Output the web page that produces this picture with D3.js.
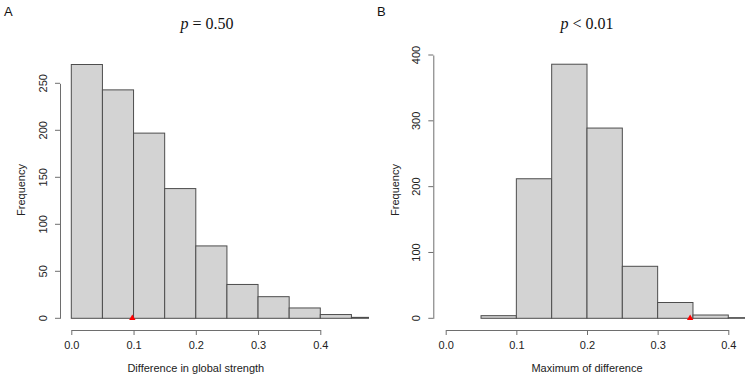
<!DOCTYPE html>
<html lang="en">
<head>
<meta charset="UTF-8">
<title>Histograms</title>
<script src="https://d3js.org/d3.v7.min.js"></script>
<style>
  body { margin: 0; background: #fff; }
  text { font-family: "Liberation Sans", Arial, sans-serif; }
</style>
</head>
<body>
<script>
    // panel A: difference in global strength
    var breaksA = [0, 0.05, 0.1, 0.15, 0.2, 0.25, 0.3, 0.35, 0.4, 0.45, 0.5];
    var countsA = [270, 243, 197, 138, 77, 36, 23, 11, 4, 1];
    var ticksXA = [0, 0.1, 0.2, 0.3, 0.4];
    var ticksYA = [0, 50, 100, 150, 200, 250];
    var observedA = 0.098;

    // panel B: maximum of difference
    var breaksB = [0.05, 0.1, 0.15, 0.2, 0.25, 0.3, 0.35, 0.4, 0.45];
    var countsB = [4, 212, 386, 289, 79, 24, 5, 1];
    var ticksXB = [0, 0.1, 0.2, 0.3, 0.4];
    var ticksYB = [0, 100, 200, 300, 400];
    var observedB = 0.346;

    var w = 746, h = 377;

    var svg = d3.select("body").append("svg")
        .attr("width", w)
        .attr("height", h);

    function panel(p) {
        var x = d3.scaleLinear().domain([0, 0.4]).range(p.xr);
        var y = d3.scaleLinear().domain([0, p.ymax]).range([318.3, p.ytop]);
        var g = svg.append("g");

        g.append("clipPath").attr("id", "clip" + p.id)
            .append("rect")
            .attr("x", p.clip[0]).attr("y", 0)
            .attr("width", p.clip[1] - p.clip[0]).attr("height", 330);

        var bins = p.counts.map(function(c, i) {
            return { x0: p.breaks[i], x1: p.breaks[i + 1], n: c };
        });

        g.append("g").attr("clip-path", "url(#clip" + p.id + ")")
            .selectAll("rect")
            .data(bins)
            .enter()
            .append("rect")
            .attr("x", function(d) { return x(d.x0); })
            .attr("y", function(d) { return y(d.n); })
            .attr("width", function(d) { return x(d.x1) - x(d.x0); })
            .attr("height", function(d) { return y(0) - y(d.n); })
            .attr("fill", "#d3d3d3")
            .attr("stroke", "#4d4d4d")
            .attr("stroke-width", 1);

        // observed value
        var tx = x(p.observed), ty = y(0);
        g.append("path")
            .attr("d", "M" + (tx - 3.2) + "," + (ty + 1.8) + "L" + (tx + 3.2) + "," + (ty + 1.8) + "L" + tx + "," + (ty - 3.8) + "Z")
            .attr("fill", "#ff0000");

        var xAxis = d3.axisBottom(x).tickValues(p.ticksX).tickFormat(d3.format(".1f"))
            .tickSize(5).tickSizeOuter(0).tickPadding(6);
        var gx = g.append("g").attr("transform", "translate(0,330)").call(xAxis);

        var yAxis = d3.axisLeft(y).tickValues(p.ticksY).tickSize(5).tickSizeOuter(0);
        var gy = g.append("g").attr("transform", "translate(" + p.yAxisX + ",0)").call(yAxis);

        [gx, gy].forEach(function(a) {
            a.select(".domain").attr("stroke", "#6e6e6e");
            a.selectAll(".tick line").attr("stroke", "#6e6e6e");
            a.selectAll(".tick text").attr("fill", "#222").style("font-size", "11px")
                .style("font-family", "'Liberation Sans', Arial, sans-serif");
        });

        gy.selectAll(".tick text")
            .attr("x", null).attr("dy", null)
            .attr("text-anchor", "middle")
            .attr("transform", function(d) { return "translate(-13," + y(d) + ") rotate(-90)"; })
            .attr("y", 0);
        gy.selectAll(".tick").attr("transform", null);
        gy.selectAll(".tick line").attr("transform", function(d) { return "translate(0," + y(d) + ")"; });

        g.append("text")
            .attr("transform", "translate(" + p.ylabX + ",190) rotate(-90)")
            .attr("text-anchor", "middle")
            .style("font-size", "11px").attr("fill", "#222")
            .text("Frequency");

        g.append("text")
            .attr("x", (x(0) + x(0.4)) / 2).attr("y", 372)
            .attr("text-anchor", "middle")
            .style("font-size", "11px").attr("fill", "#222")
            .text(p.xlab);

        var t = g.append("text")
            .attr("x", p.titleX).attr("y", 29)
            .attr("text-anchor", "middle")
            .style("font-family", "'Liberation Serif', 'Times New Roman', serif")
            .style("font-size", "16px").attr("fill", "#111");
        t.append("tspan").style("font-style", "italic").text("p");
        t.append("tspan").text(p.title);

        g.append("text")
            .attr("x", p.letterX).attr("y", 16)
            .style("font-size", "13px").attr("fill", "#111")
            .text(p.letter);
    }

    panel({ id: "A", breaks: breaksA, counts: countsA, ticksX: ticksXA, ticksY: ticksYA,
            observed: observedA, ymax: 250, ytop: 83.3, xr: [71.3, 320.3], clip: [60, 369],
            yAxisX: 60, ylabX: 25, xlab: "Difference in global strength",
            titleX: 207, title: " = 0.50", letter: "A", letterX: 4 });

    panel({ id: "B", breaks: breaksB, counts: countsB, ticksX: ticksXB, ticksY: ticksYB,
            observed: observedB, ymax: 400, ytop: 55, xr: [445.7, 728.3], clip: [433.3, 745],
            yAxisX: 433.3, ylabX: 399, xlab: "Maximum of difference",
            titleX: 587, title: " < 0.01", letter: "B", letterX: 377 });
</script>
</body>
</html>
